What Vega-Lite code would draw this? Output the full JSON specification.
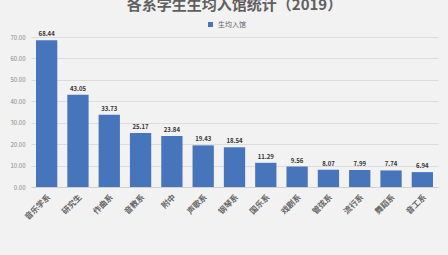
{
  "$schema": "https://vega.github.io/schema/vega-lite/v6.json",
  "width": 407,
  "height": 150,
  "autosize": {"type": "none"},
  "padding": {"left": 31, "top": 37, "right": 10, "bottom": 68},
  "background": "#f2f2f2",
  "title": {
    "text": "各系学生生均入馆统计（2019）",
    "font": "Noto Sans CJK SC",
    "fontSize": 15,
    "fontWeight": "bold",
    "color": "#606060",
    "anchor": "middle",
    "offset": 8
  },
  "config": {
    "view": {"stroke": null},
    "font": "Noto Sans CJK SC"
  },
  "data": {
    "values": [
      {"dept": "音乐学系", "value": 68.44},
      {"dept": "研究生", "value": 43.05},
      {"dept": "作曲系", "value": 33.73},
      {"dept": "音教系", "value": 25.17},
      {"dept": "附中", "value": 23.84},
      {"dept": "声歌系", "value": 19.43},
      {"dept": "钢琴系", "value": 18.54},
      {"dept": "国乐系", "value": 11.29},
      {"dept": "戏剧系", "value": 9.56},
      {"dept": "管弦系", "value": 8.07},
      {"dept": "流行系", "value": 7.99},
      {"dept": "舞蹈系", "value": 7.74},
      {"dept": "音工系", "value": 6.94}
    ]
  },
  "encoding": {
    "x": {
      "field": "dept",
      "type": "nominal",
      "sort": null,
      "title": null,
      "scale": {"paddingInner": 0.32, "paddingOuter": 0.16},
      "axis": {
        "labelAngle": -45,
        "labelFontSize": 8,
        "labelColor": "#666666",
        "labelFontWeight": "bold",
        "ticks": false,
        "domainColor": "#d0d0d0",
        "labelPadding": 6
      }
    },
    "y": {
      "field": "value",
      "type": "quantitative",
      "title": null,
      "scale": {"domain": [0, 70]},
      "axis": {
        "values": [0, 10, 20, 30, 40, 50, 60, 70],
        "format": ".2f",
        "labelFontSize": 6,
        "labelColor": "#888888",
        "domain": false,
        "ticks": false,
        "gridColor": "#dcdcdc",
        "labelPadding": 6
      }
    }
  },
  "layer": [
    {
      "mark": {"type": "bar", "color": "#4775bb"},
      "encoding": {
        "color": {
          "datum": "生均入馆",
          "scale": {"range": ["#4775bb"]},
          "legend": {
            "title": null,
            "orient": "none",
            "legendX": 176,
            "legendY": -16,
            "symbolType": "square",
            "symbolSize": 25,
            "labelFontSize": 7,
            "labelColor": "#666666"
          }
        }
      }
    },
    {
      "mark": {"type": "text", "dy": -6, "fontSize": 6, "fontWeight": "bold", "color": "#333333"},
      "encoding": {
        "text": {"field": "value", "type": "quantitative", "format": ".2f"}
      }
    }
  ]
}
